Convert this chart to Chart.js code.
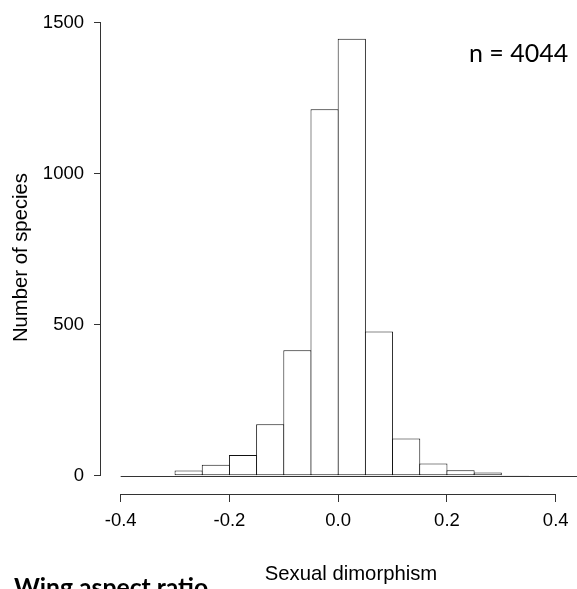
<!DOCTYPE html>
<html>
<head>
<meta charset="utf-8">
<script src="https://cdn.jsdelivr.net/npm/chart.js@4"></script>
<style>
  html, body { margin: 0; padding: 0; background: #fff; overflow: hidden; }
  #wrap { width: 577px; height: 589px; overflow: hidden; }
</style>
</head>
<body>
<div id="wrap"><canvas id="hist" width="601" height="589"></canvas></div>
<script>
// histogram bins (width 0.05) and species counts per bin
const binStarts = [-0.40, -0.35, -0.30, -0.25, -0.20, -0.15, -0.10, -0.05, 0.00,
                   0.05, 0.10, 0.15, 0.20, 0.25, 0.30, 0.35, 0.40, 0.45];
const counts    = [0, 0, 18, 37, 69, 171, 416, 1213, 1447,
                   478, 124, 41, 19, 11, 3, 0, 0, 0];
const binWidth = 0.05;
const xTicks = [-0.4, -0.2, 0.0, 0.2, 0.4];
const yTicks = [0, 500, 1000, 1500];
const sampleLabel = 'n = 4044';

const points = binStarts.map((b, i) => ({ x: b + binWidth / 2, y: counts[i] }));

const tickFont = { family: '"Liberation Sans", Arial, sans-serif', size: 18.5 };
const titleFont = { family: '"Liberation Sans", Arial, sans-serif', size: 20.3 };

// R-style axes: lines only span the tick range, plus baseline and annotations
const extras = {
  id: 'extras',
  afterDatasetsDraw(chart) {
    const ctx = chart.ctx;
    const xs = chart.scales.x, ys = chart.scales.y;
    const area = chart.chartArea;
    ctx.save();
    ctx.strokeStyle = '#333';
    ctx.lineWidth = 1;
    // zero line under the empty bins
    const y0 = Math.round(ys.getPixelForValue(0)) + 0.5;
    ctx.beginPath();
    ctx.moveTo(xs.getPixelForValue(binStarts[0]), y0);
    ctx.lineTo(area.right, y0);
    ctx.stroke();
    // y axis line
    const ax = Math.round(area.left) - 0.5;
    ctx.beginPath();
    ctx.moveTo(ax, ys.getPixelForValue(yTicks[0]));
    ctx.lineTo(ax, ys.getPixelForValue(yTicks[yTicks.length - 1]));
    ctx.stroke();
    // x axis line
    const ay = Math.round(area.bottom) + 0.5;
    ctx.beginPath();
    ctx.moveTo(xs.getPixelForValue(xTicks[0]), ay);
    ctx.lineTo(xs.getPixelForValue(xTicks[xTicks.length - 1]), ay);
    ctx.stroke();

    ctx.fillStyle = '#000';
    ctx.textBaseline = 'alphabetic';
    ctx.textAlign = 'left';
    ctx.font = '25px Lato, "Open Sans", sans-serif';
    ctx.fillText(sampleLabel, 469, 62);
    ctx.font = 'bold 24.7px Lato, "Open Sans", sans-serif';
    ctx.fillText('Wing aspect ratio', 14, 596);
    ctx.restore();
  }
};

new Chart(document.getElementById('hist'), {
  type: 'bar',
  data: {
    datasets: [{
      data: points,
      backgroundColor: '#fff',
      borderColor: '#111',
      borderWidth: 1,
      borderSkipped: false,
      inflateAmount: 0,
      categoryPercentage: 1,
      barPercentage: 1.037
    }]
  },
  options: {
    responsive: false,
    animation: false,
    layout: { padding: { top: 16, left: 0, right: 0, bottom: 0 } },
    plugins: { legend: { display: false }, tooltip: { enabled: false } },
    scales: {
      x: {
        type: 'linear',
        offset: false,
        min: -0.4362,
        max: 0.4833,
        afterBuildTicks: s => { s.ticks = xTicks.map(v => ({ value: v })); },
        afterFit: s => { s.height = 95; },
        border: { display: false },
        grid: { drawOnChartArea: false, tickLength: 8, color: '#333', offset: false },
        ticks: {
          font: tickFont, color: '#000', padding: 8, maxRotation: 0,
          callback: v => v.toFixed(1)
        },
        title: {
          display: true, text: 'Sexual dimorphism', font: titleFont, color: '#000',
          padding: { top: 0, bottom: 2 }
        }
      },
      y: {
        min: -60,
        max: 1505,
        afterBuildTicks: s => { s.ticks = yTicks.map(v => ({ value: v })); },
        afterFit: s => { s.width = 101; },
        border: { display: false },
        grid: { drawOnChartArea: false, tickLength: 7, color: '#333' },
        ticks: {
          font: tickFont, color: '#000', padding: 10,
          callback: v => String(v)
        },
        title: {
          display: true, text: 'Number of species', font: titleFont, color: '#000',
          padding: { top: 9, bottom: 0 }
        }
      }
    }
  },
  plugins: [extras]
});
</script>
</body>
</html>
